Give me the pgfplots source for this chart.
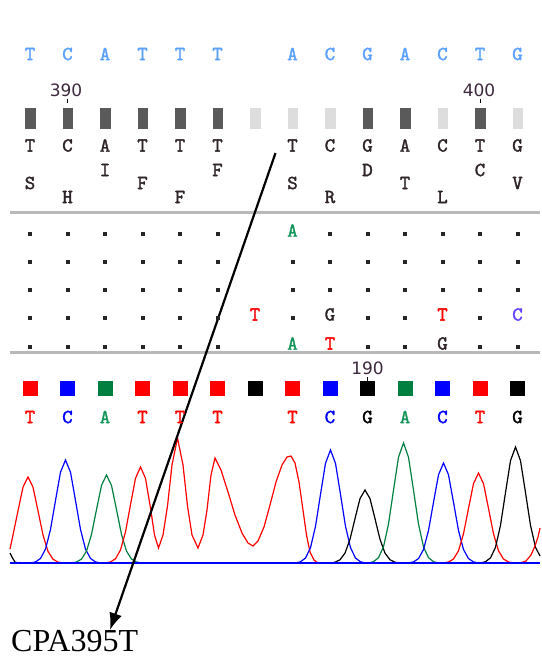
\documentclass[border=0pt]{standalone}
\usepackage{pgfplots}
\pgfplotsset{compat=1.18}
\usepackage{fontspec}
\usetikzlibrary{arrows.meta}
\newfontfamily\numfont{DejaVu Sans}
\newfontfamily\capfont{Liberation Serif}
\newfontfamily\monofam[FakeBold=1.6]{lmmono10-regular.otf}
\newcommand\mono{\monofam\fontsize{20}{20}\selectfont}
\definecolor{topblue}{RGB}{90,160,255}
\definecolor{qdark}{RGB}{90,90,90}
\definecolor{qlight}{RGB}{221,221,221}
\definecolor{txt}{RGB}{45,35,40}
\definecolor{cred}{RGB}{255,0,0}
\definecolor{cblue}{RGB}{0,0,255}
\definecolor{cgreen}{RGB}{0,128,64}
\definecolor{lgreen}{RGB}{20,150,90}
\definecolor{lviolet}{RGB}{100,70,255}
\definecolor{lineg}{RGB}{185,185,185}
\definecolor{numc}{RGB}{60,40,60}
\pgfplotsset{
  lbl/.style={draw=none, mark=none, nodes near coords, point meta=explicit symbolic,
    nodes near coords style={anchor=center, inner sep=0pt, font=\mono, text=#1}},
  sq/.style={only marks, color=#1, mark=square*, mark size=7pt},
  qb/.style={only marks, color=#1, mark=square*, mark size=10pt, mark options={xscale=0.48}},
  tr/.style={color=#1, line width=1.2pt},
}
\begin{document}
\begin{tikzpicture}
\begin{axis}[width=540pt, height=657pt, scale only axis, xmin=0, xmax=540, ymin=0, ymax=657,
  y dir=reverse, hide axis, clip=false]
\path[fill=white] (axis cs:0,0) rectangle (axis cs:540,657);
% top reference row
\addplot[lbl=topblue] table[meta=l] {
x y l
30 54 T
67.5 54 C
105 54 A
142.5 54 T
180 54 T
217.5 54 T
292.5 54 A
330 54 C
367.5 54 G
405 54 A
442.5 54 C
480 54 T
517.5 54 G
};
% position numbers
\addplot[draw=none, mark=none, nodes near coords, point meta=explicit symbolic,
  nodes near coords style={anchor=center, inner sep=0pt, font=\numfont\fontsize{17}{17}\selectfont, text=numc}] table[meta=l] {
x y l
66 90 390
479 90 400
367.5 368 190
};
\addplot[only marks, mark=|, mark size=2pt, black, line width=1pt] coordinates {(67.5,101) (480,101) (367.5,379)};
% quality bars
\addplot[qb=qdark] coordinates {
(30,118) (67.5,118) (105,118) (142.5,118) (180,118) (217.5,118) (367.5,118) (405,118) (480,118)};
\addplot[qb=qlight] coordinates {
(255,118) (292.5,118) (330,118) (442.5,118) (517.5,118)};
% consensus row
\addplot[lbl=txt] table[meta=l] {
x y l
30 145.5 T
67.5 145.5 C
105 145.5 A
142.5 145.5 T
180 145.5 T
217.5 145.5 T
292.5 145.5 T
330 145.5 C
367.5 145.5 G
405 145.5 A
442.5 145.5 C
480 145.5 T
517.5 145.5 G
};
% amino acids
\addplot[lbl=txt] table[meta=l] {
x y l
30 183 S
67.5 197 H
105 170 I
142.5 183 F
180 197 F
217.5 170 F
292.5 183 S
330 197 R
367.5 170 D
405 183 T
442.5 197 L
480 170 C
517.5 183 V
};
% separator lines
\addplot[lineg, line width=3pt] coordinates {(10,212.5) (540,212.5)};
\addplot[lineg, line width=3pt] coordinates {(10,352.5) (540,352.5)};
% alignment dots
\addplot[only marks, color=black!85, mark=square*, mark size=1.5pt] table {
x y
30 234
67.5 234
105 234
142.5 234
180 234
217.5 234
330 234
367.5 234
405 234
442.5 234
480 234
517.5 234
30 262
67.5 262
105 262
142.5 262
180 262
217.5 262
292.5 262
330 262
367.5 262
405 262
442.5 262
480 262
517.5 262
30 290
67.5 290
105 290
142.5 290
180 290
217.5 290
292.5 290
330 290
367.5 290
405 290
442.5 290
480 290
517.5 290
30 318
67.5 318
105 318
142.5 318
180 318
217.5 318
292.5 318
367.5 318
405 318
480 318
30 347
67.5 347
105 347
142.5 347
180 347
217.5 347
367.5 347
405 347
480 347
517.5 347
};
\addplot[lbl=lgreen] table[meta=l] {
x y l
292.5 230.5 A
292.5 343.5 A
};
\addplot[lbl=cred] table[meta=l] {
x y l
255 314.5 T
442.5 314.5 T
330 343.5 T
};
\addplot[lbl=txt] table[meta=l] {
x y l
330 314.5 G
442.5 343.5 G
};
\addplot[lbl=lviolet] table[meta=l] {
x y l
517.5 314.5 C
};
% base call squares
\addplot[sq=cred] coordinates {(30,388) (142.5,388) (180,388) (217.5,388) (292.5,388) (480,388)};
\addplot[sq=cblue] coordinates {(67.5,388) (330,388) (442.5,388)};
\addplot[sq=cgreen] coordinates {(105,388) (405,388)};
\addplot[sq=black] coordinates {(255,388) (367.5,388) (517.5,388)};
% base call letters
\addplot[lbl=cred] table[meta=l] {
x y l
30 417 T
142.5 417 T
180 417 T
217.5 417 T
292.5 417 T
480 417 T
};
\addplot[lbl=cblue] table[meta=l] {
x y l
67.5 417 C
330 417 C
442.5 417 C
};
\addplot[lbl=lgreen] table[meta=l] {
x y l
105 417 A
405 417 A
};
\addplot[lbl=black] table[meta=l] {
x y l
367.5 417 G
517.5 417 G
};
% chromatogram traces
\addplot[tr=black] coordinates {(10,553) (12.5,558) (15,562) (18,563)};
\addplot[tr=cred] coordinates {(10,549) (13,535) (18,510.8) (23,487.1) (28,477) (33,487.1) (38,510.8) (43,535) (48,551.4) (53,559.2) (58,562.1) (63,563)};
\addplot[tr=cblue] coordinates {(30.5,563) (35.5,561.9) (40.5,558.5) (45.5,549.1) (50.5,529.5) (55.5,500.5) (60.5,472.2) (65.5,460) (70.5,472.2) (75.5,500.5) (80.5,529.5) (85.5,549.1) (90.5,558.5) (95.5,561.9) (100.5,563)};
\addplot[tr=cgreen] coordinates {(71.5,563) (76.5,562) (81.5,559.1) (86.5,551.1) (91.5,534.4) (96.5,509.6) (101.5,485.4) (106.5,475) (111.5,485.4) (116.5,509.6) (121.5,534.4) (126.5,551.1) (131.5,559.1) (136.5,562) (141.5,563)};
\addplot[tr=cred] coordinates {(105.5,563) (110.5,561.9) (115.5,558.8) (120.5,550) (125.5,531.8) (130.5,504.7) (135.5,478.3) (140.5,467) (145.5,478.3) (150.5,508) (154.5,535) (158.5,548) (163,535) (167.5,506) (172,465) (177.5,438) (183,465) (187.5,506) (192,535) (198,548) (203,535) (207,510) (211,475) (215,458) (221,470) (228,492) (235,515) (242,533) (248,543) (253,546) (258,541) (264,527) (270,505) (276,482) (282,465) (287,457) (291,456) (295,463) (299,482) (303,510) (306.5,535) (310,552) (314,560) (318,563)};
\addplot[tr=cblue] coordinates {(295.5,563) (300.5,561.8) (305.5,558) (310.5,547.7) (315.5,526.3) (320.5,494.4) (325.5,463.3) (330.5,450) (335.5,463.3) (340.5,494.4) (345.5,526.3) (350.5,547.7) (355.5,558) (360.5,561.8) (365.5,563)};
\addplot[tr=black] coordinates {(330,563) (335,562.2) (340,559.8) (345,553.1) (350,539.3) (355,518.7) (360,498.6) (365,490) (370,498.6) (375,518.7) (380,539.3) (385,553.1) (390,559.8) (395,562.2) (400,563)};
\addplot[tr=cgreen] coordinates {(368.5,563) (373.5,561.7) (378.5,557.7) (383.5,546.8) (388.5,524) (393.5,490.2) (398.5,457.2) (403.5,443) (408.5,457.2) (413.5,490.2) (418.5,524) (423.5,546.8) (428.5,557.7) (433.5,561.7) (438.5,563)};
\addplot[tr=cblue] coordinates {(408.5,563) (413.5,561.9) (418.5,558.6) (423.5,549.5) (428.5,530.5) (433.5,502.3) (438.5,474.8) (443.5,463) (448.5,474.8) (453.5,502.3) (458.5,530.5) (463.5,549.5) (468.5,558.6) (473.5,561.9) (478.5,563)};
\addplot[tr=cred] coordinates {(443.5,563) (448.5,562) (453.5,559) (458.5,550.8) (463.5,533.7) (468.5,508.4) (473.5,483.6) (478.5,473) (483.5,483.6) (488.5,508.4) (493.5,533.7) (498.5,550.8) (503.5,559) (508.5,562) (513.5,563)};
\addplot[tr=black] coordinates {(480.5,563) (485.5,561.7) (490.5,557.9) (495.5,547.3) (500.5,525.3) (505.5,492.6) (510.5,460.7) (515.5,447) (520.5,460.7) (525.5,492.6) (530.5,525.3) (535.5,547.3) (540,556)};
\addplot[tr=cred] coordinates {(520,563) (526,561) (531,555) (535,546) (538,537) (540,528)};
\addplot[cblue, line width=1.3pt] coordinates {(10,563) (540,563)};
% annotation arrow and label
\addplot[black, line width=2.2pt, -{Latex[length=17pt,width=13pt]}] coordinates {(275.5,153) (110,630)};
\addplot[draw=none, mark=none, nodes near coords, point meta=explicit symbolic,
  nodes near coords style={anchor=base west, inner sep=0pt, font=\capfont\fontsize{32}{32}\selectfont, text=black}] table[meta=l] {
x y l
11 651 CPA395T
};
\end{axis}
\end{tikzpicture}
\end{document}
